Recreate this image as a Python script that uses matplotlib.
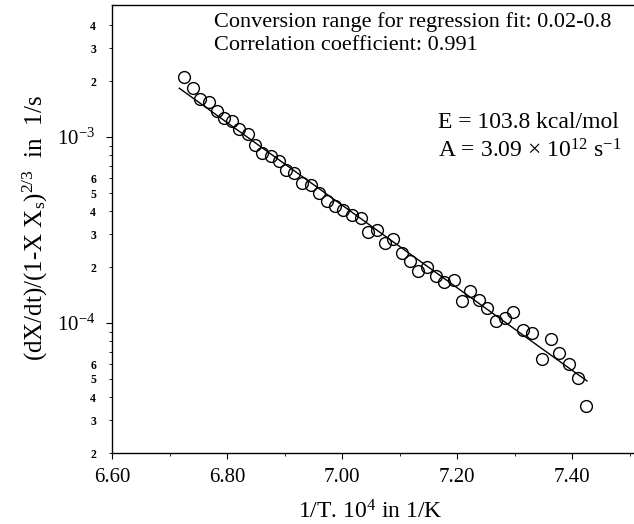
import matplotlib
matplotlib.use('Agg')
import matplotlib.pyplot as plt
from matplotlib.ticker import FixedLocator, FixedFormatter

# ---- data ----
inv_T = [6.726, 6.740, 6.753, 6.768, 6.782, 6.795, 6.808, 6.821, 6.836, 6.849,
         6.861, 6.876, 6.890, 6.903, 6.917, 6.931, 6.946, 6.960, 6.974, 6.988,
         7.002, 7.018, 7.033, 7.046, 7.061, 7.075, 7.089, 7.104, 7.118, 7.133,
         7.148, 7.163, 7.177, 7.194, 7.208, 7.223, 7.238, 7.253, 7.268, 7.284,
         7.298, 7.314, 7.330, 7.347, 7.363, 7.378, 7.394, 7.410, 7.425]
rate = [2.11e-3, 1.84e-3, 1.61e-3, 1.54e-3, 1.38e-3, 1.26e-3, 1.22e-3, 1.10e-3, 1.04e-3, 9.06e-4,
        8.23e-4, 7.90e-4, 7.46e-4, 6.65e-4, 6.38e-4, 5.68e-4, 5.52e-4, 4.98e-4, 4.54e-4, 4.27e-4,
        4.05e-4, 3.81e-4, 3.66e-4, 3.10e-4, 3.16e-4, 2.68e-4, 2.82e-4, 2.37e-4, 2.15e-4, 1.91e-4,
        2.01e-4, 1.79e-4, 1.67e-4, 1.70e-4, 1.31e-4, 1.49e-4, 1.33e-4, 1.20e-4, 1.02e-4, 1.07e-4,
        1.14e-4, 9.17e-5, 8.87e-5, 6.43e-5, 8.23e-5, 6.87e-5, 6.02e-5, 5.05e-5, 3.60e-5]
fit_inv_T = [6.717, 7.426]
fit_rate = [1.83e-3, 4.88e-5]

x_ticks = [6.6, 6.8, 7.0, 7.2, 7.4]
x_tick_labels = ['6.60', '6.80', '7.00', '7.20', '7.40']
x_minor = [6.7, 6.9, 7.1, 7.3, 7.5]
y_major = [1e-4, 1e-3]
y_major_labels = [r'$10^{-4}$', r'$10^{-3}$']
y_minor = [2e-5, 3e-5, 4e-5, 5e-5, 6e-5, 7e-5, 8e-5, 9e-5,
           2e-4, 3e-4, 4e-4, 5e-4, 6e-4, 7e-4, 8e-4, 9e-4,
           2e-3, 3e-3, 4e-3]
y_minor_labels = ['2', '3', '4', '5', '6', '', '', '',
                  '2', '3', '4', '5', '6', '', '', '',
                  '2', '3', '4']

texts_top = ['Conversion range for regression fit: 0.02-0.8',
             'Correlation coefficient: 0.991']
text_E = 'E = 103.8 kcal/mol'
text_A = r'A = 3.09 $\times$ 10$^{12}$ s$^{-1}$'
xlabel = r'1/T. 10$^{4}$ in 1/K'
ylabel = r'(dX/dt)/(1-X X$_{s}$)$^{2/3}$  in  1/s'

plt.rcParams['font.family'] = ['Liberation Serif', 'DejaVu Serif']
plt.rcParams['mathtext.fontset'] = 'custom'
plt.rcParams['mathtext.rm'] = 'Liberation Serif'
plt.rcParams['mathtext.it'] = 'Liberation Serif:italic'
plt.rcParams['mathtext.default'] = 'regular'

W, H = 634, 524
fig = plt.figure(figsize=(W / 100, H / 100), dpi=100)
ax = fig.add_axes([112 / W, 71 / H, 522 / W, 448 / H])

ax.plot(fit_inv_T, fit_rate, color='black', lw=1.0, zorder=2)
ax.plot(inv_T, rate, linestyle='none', marker='o', markersize=8.5,
        markerfacecolor='none', markeredgecolor='black', markeredgewidth=1.0, zorder=3)

ax.set_yscale('log')
ax.set_xlim(6.6, 6.6 + 522 / 575)
ax.set_ylim(2e-5, 5.13e-3)

ax.xaxis.set_major_locator(FixedLocator(x_ticks))
ax.xaxis.set_major_formatter(FixedFormatter(x_tick_labels))
ax.xaxis.set_minor_locator(FixedLocator(x_minor))
ax.yaxis.set_major_locator(FixedLocator(y_major))
ax.yaxis.set_major_formatter(FixedFormatter(y_major_labels))
ax.yaxis.set_minor_locator(FixedLocator(y_minor))
ax.yaxis.set_minor_formatter(FixedFormatter(y_minor_labels))

ax.tick_params(axis='x', which='major', direction='out', length=4, width=0.8,
               labelsize=15, pad=7)
ax.tick_params(axis='x', which='minor', direction='out', length=2.5, width=0.6)
ax.tick_params(axis='y', which='major', direction='out', length=4, width=0.8,
               labelsize=15, pad=8)
ax.tick_params(axis='y', which='minor', direction='out', length=2.5, width=0.6,
               labelsize=8.5, pad=9)
for lab in ax.yaxis.get_minorticklabels():
    lab.set_fontweight('bold')

ax.spines['right'].set_visible(False)
for s in ['left', 'bottom', 'top']:
    ax.spines[s].set_linewidth(1.0)

fig.text(214 / W, 1 - 22 / H, texts_top[0], fontsize=16, va='center', ha='left')
fig.text(214 / W, 1 - 46 / H, texts_top[1], fontsize=16, va='center', ha='left')
fig.text(438 / W, 1 - 122 / H, text_E, fontsize=17, va='center', ha='left')
fig.text(438 / W, 1 - 151 / H, text_A, fontsize=17, va='center', ha='left')

fig.text(370 / W, 1 - 512 / H, xlabel, fontsize=17, va='center', ha='center')
fig.text(35 / W, 1 - 228 / H, ylabel, fontsize=18, va='center', ha='center', rotation=90)

fig.savefig('out.png', dpi=100)
